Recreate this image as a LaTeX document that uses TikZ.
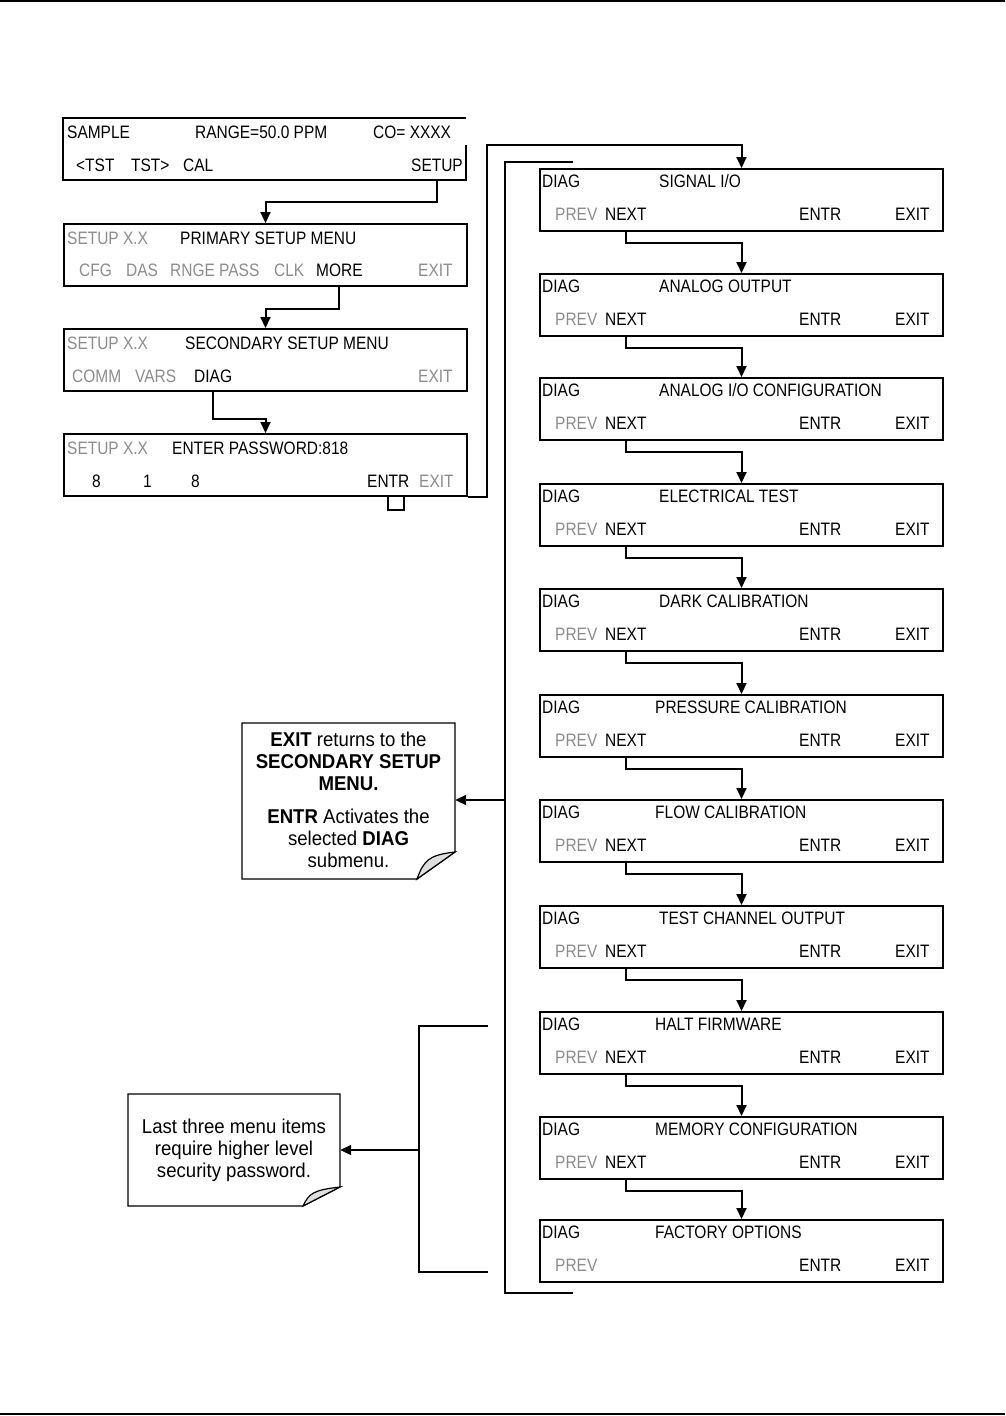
\documentclass[tikz,border=0pt]{standalone}
\usepackage{fontspec}
\setmainfont{Liberation Sans}[FakeStretch=0.86]
\newfontfamily\notefont{Liberation Sans}[FakeStretch=0.93]
\usetikzlibrary{arrows.meta,positioning,calc}
\definecolor{dimgray}{gray}{0.55}

\begin{document}
\begin{tikzpicture}[x=1pt, y=-1pt,
    screen/.style={minimum width=403pt, minimum height=62pt, inner sep=0pt},
    frame/.style={draw, line width=2pt},
    txt/.style={inner sep=0pt, anchor=base west, font=\fontsize{18}{20}\selectfont},
    dim/.style={txt, text=dimgray},
    wire/.style={line width=2pt},
    link/.style={wire, -{Triangle[length=11pt,width=10pt]}},
    note/.style={draw, line width=1.2pt},
    notetxt/.style={align=center, inner sep=0pt, font=\notefont\fontsize{20}{22}\selectfont}]

    \useasboundingbox (0,0) rectangle (1005,1416);

    % Page rules
    \draw[line width=1.5pt] (0,1) -- (1005,1);
    \draw[line width=1.5pt] (0,1414) -- (1005,1414);

    % Setup screens
    \node[screen, anchor=north west] (s1) at (63,118) {};
    \draw[frame] ([yshift=-27pt]s1.north east) -- (s1.south east) -- (s1.south west) -- (s1.north west) -- (s1.north east);
    \node[txt] at (67,138) {SAMPLE};
    \node[txt] at (195,138) {RANGE=50.0 PPM};
    \node[txt] at (373,138) {CO= XXXX};
    \node[txt] at (76,171) {<TST};
    \node[txt] at (131,171) {TST>};
    \node[txt] at (183,171) {CAL};
    \node[txt, anchor=base east] (setup) at (463,171) {SETUP};

    \node[screen, frame, anchor=north west] (s2) at (63,223) {};
    \node[dim] at (67,244) {SETUP X.X};
    \node[txt] at (180,244) {PRIMARY SETUP MENU};
    \node[dim] at (79,276) {CFG};
    \node[dim] at (126,276) {DAS};
    \node[dim] at (170,276) {RNGE PASS};
    \node[dim] at (274,276) {CLK};
    \node[txt] (more) at (316,276) {MORE};
    \node[dim] at (418,276) {EXIT};

    \node[screen, frame, anchor=north west] (s3) at (63,328) {};
    \node[dim] at (67,349) {SETUP X.X};
    \node[txt] at (185,349) {SECONDARY SETUP MENU};
    \node[dim] at (72,382) {COMM};
    \node[dim] at (135,382) {VARS};
    \node[txt] (diag) at (194,382) {DIAG};
    \node[dim] at (418,382) {EXIT};

    \node[screen, frame, anchor=north west] (s4) at (63,433) {};
    \node[dim] at (67,454) {SETUP X.X};
    \node[txt] at (172,454) {ENTER PASSWORD:818};
    \node[txt] at (92,487) {8};
    \node[txt] at (143,487) {1};
    \node[txt] at (191,487) {8};
    \node[txt] (entr) at (367,487) {ENTR};
    \node[dim] at (419,487) {EXIT};

    % DIAG screens
    \foreach \i/\ty/\tx/\title in {1/168/659/{SIGNAL I/O}, 2/273/659/{ANALOG OUTPUT},
        3/377/659/{ANALOG I/O CONFIGURATION}, 4/483/659/{ELECTRICAL TEST},
        5/588/659/{DARK CALIBRATION}, 6/694/655/{PRESSURE CALIBRATION},
        7/799/655/{FLOW CALIBRATION}, 8/905/659/{TEST CHANNEL OUTPUT},
        9/1011/655/{HALT FIRMWARE}, 10/1116/655/{MEMORY CONFIGURATION},
        11/1219/655/{FACTORY OPTIONS}} {
        \node[screen, frame, anchor=north west] (r\i) at (539,\ty) {};
        \node[txt] at (542,\ty+19.5) {DIAG};
        \node[txt] at (\tx,\ty+19.5) {\title};
        \node[dim] at (555,\ty+52) {PREV};
        \ifnum\i<11 \node[txt] (n\i) at (605,\ty+52) {NEXT}; \fi
        \node[txt] at (799,\ty+52) {ENTR};
        \node[txt] at (895,\ty+52) {EXIT};
    }

    % Notes
    \draw[note] (242,723) -- (455,723) -- (455,852) -- (417,879) -- (242,879) -- cycle;
    \draw[note, fill=gray!25] (417,879) .. controls (424,860) and (429,855) .. (455,852) -- cycle;
    \node[notetxt, minimum width=213pt, minimum height=156pt] (note1) at (348.5,800)
        {\textbf{EXIT} returns to the\\ \textbf{SECONDARY SETUP}\\ \textbf{MENU.}\\[11pt]
         \textbf{ENTR} Activates the\\ selected \textbf{DIAG}\\ submenu.};

    \draw[note] (128,1094) -- (340,1094) -- (340,1187) -- (303,1206) -- (128,1206) -- cycle;
    \draw[note, fill=gray!25] (303,1206) .. controls (309,1193) and (314,1190) .. (340,1187) -- cycle;
    \node[notetxt, minimum width=212pt, minimum height=112pt] (note2) at (234,1150)
        {Last three menu items\\ require higher level\\ security password.};

    % Connectors
    \draw[link] (setup |- s1.south) -- ++(0,22) -| (s2.north);
    \draw[link] (more |- s2.south) -- ++(0,22) -| (s3.north);
    \draw[link] (diag |- s3.south) -- ++(0,27) -| (s4.north);
    \draw[wire] (entr |- s4.south) -- ++(0,13) -- ++(16,0) -- ++(0,-13);
    \coordinate (outer) at (487,145);
    \draw[link] (s4.south east) -| (outer) -| (r1.north);
    \foreach \i [evaluate=\i as \j using int(\i+1)] in {1,...,10}
        \draw[link] (n\i |- r\i.south) -- ++(0,11) -| (r\j.north);

    % Return loop
    \coordinate (loopin) at (573,162);
    \coordinate (loopout) at (573,1293);
    \coordinate (loopmid) at (505,800);
    \draw[wire] (loopin) -- ++(-68,0) |- (loopout);
    \draw[link] (loopmid) -- (note1.east);

    % Password bracket
    \coordinate (btop) at (488,1026);
    \coordinate (bbot) at (488,1272);
    \coordinate (bmid) at (419,1150);
    \draw[wire] (btop) -- ++(-69,0) |- (bbot);
    \draw[link] (bmid) -- (note2.east);

\end{tikzpicture}
\end{document}
